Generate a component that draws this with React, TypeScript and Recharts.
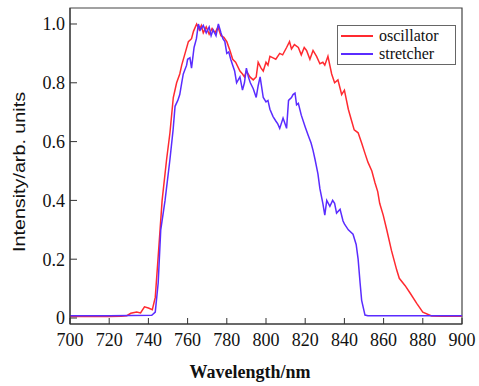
import React from "react";
import {
  Label,
  Legend,
  Line,
  LineChart,
  ReferenceArea,
  XAxis,
  YAxis
} from "recharts";

// oscillator spectrum
const oscWl = [
  700, 710, 720, 726, 729, 731, 734, 736, 738, 740, 742, 743.5, 745, 747, 749.3, 751, 752.7, 754.4, 756, 757,
  758.7, 760.4, 762, 763, 764.6, 766, 767, 768, 769.5, 771, 772.5, 774, 775.5, 777, 778.5, 780, 781.6, 783,
  784.5, 786.7, 788, 789, 790, 791.8, 793.5, 795, 796, 797.5, 798.6, 800, 801, 802, 803.6, 805, 807, 808.5,
  810.5, 812, 813, 814.5, 816.5, 818, 819.5, 820.7, 822.4, 824, 825.8, 827.5, 829, 830, 831.6, 833.5, 835,
  836.7, 838.6, 840, 842, 843.7, 845, 847, 848.8, 850.5, 852, 854, 855.6, 857, 858, 859.8, 861.6, 864, 866.7,
  868, 871, 873.5, 876.9, 880, 884.5, 890, 900
];
const oscVal = [
  0.005, 0.005, 0.005, 0.006, 0.008, 0.016, 0.02, 0.017, 0.038, 0.034, 0.028, 0.07, 0.21, 0.4, 0.54, 0.63, 0.75,
  0.8, 0.83, 0.86, 0.9, 0.94, 0.95, 0.975, 1.0, 0.98, 0.995, 0.97, 0.99, 0.965, 0.985, 0.97, 0.99, 0.96, 0.955,
  0.94, 0.91, 0.88, 0.87, 0.84, 0.83, 0.82, 0.84, 0.82, 0.81, 0.82, 0.87, 0.85, 0.84, 0.87, 0.86, 0.89, 0.885,
  0.88, 0.9, 0.895, 0.92, 0.94, 0.915, 0.93, 0.92, 0.895, 0.92, 0.91, 0.88, 0.91, 0.89, 0.865, 0.87, 0.86, 0.89,
  0.83, 0.8, 0.81, 0.76, 0.775, 0.71, 0.67, 0.64, 0.63, 0.595, 0.56, 0.53, 0.5, 0.46, 0.43, 0.39, 0.35, 0.3,
  0.23, 0.163, 0.135, 0.11, 0.085, 0.05, 0.02, 0.007, 0.006, 0.006
];

// stretcher spectrum
const strWl = [
  700, 720, 741.7, 743.5, 745, 746.3, 748.5, 751, 752.6, 753.6, 755, 756, 757, 757.8, 759.5, 760, 761.2, 762,
  763.3, 764.5, 765.5, 766.5, 768, 769.5, 771, 772, 773, 774.5, 775.7, 777, 778, 779, 780, 781, 782, 783, 784,
  785, 786.7, 788, 789, 790, 791, 792, 793.5, 795, 796, 797, 798.6, 800, 801, 802, 803.6, 805, 806, 807, 808.7,
  810.5, 811.5, 813, 813.8, 814.8, 815.6, 816.5, 818, 820, 821.6, 823, 824, 825, 826.5, 827.5, 829, 830, 831,
  832.6, 834, 835, 836, 837.8, 839.3, 840, 842, 844.4, 846, 847, 848, 848.8, 850.5, 852, 900
];
const strVal = [
  0.008, 0.008, 0.009, 0.02, 0.12, 0.3, 0.4, 0.54, 0.64, 0.72, 0.74, 0.76, 0.8, 0.83, 0.86, 0.88, 0.885, 0.85,
  0.92, 0.95, 1.0, 0.98, 0.995, 0.97, 0.99, 0.96, 0.98, 0.96, 1.0, 0.97, 0.95, 0.94, 0.9, 0.905, 0.88, 0.86, 0.84,
  0.8, 0.82, 0.775, 0.8, 0.85, 0.82, 0.8, 0.78, 0.75, 0.79, 0.82, 0.75, 0.735, 0.74, 0.71, 0.685, 0.67, 0.66,
  0.645, 0.68, 0.645, 0.74, 0.75, 0.76, 0.765, 0.725, 0.73, 0.69, 0.65, 0.62, 0.595, 0.57, 0.54, 0.49, 0.44,
  0.39, 0.35, 0.4, 0.38, 0.4, 0.39, 0.357, 0.37, 0.33, 0.32, 0.3, 0.285, 0.25, 0.2, 0.12, 0.06, 0.01, 0.008, 0.008
];

const xTicks = [700, 720, 740, 760, 780, 800, 820, 840, 860, 880, 900];
const yTicks = [0, 0.2, 0.4, 0.6, 0.8, 1.0];

const oscData = oscWl.map((wl, i) => ({ wl, v: oscVal[i] }));
const strData = strWl.map((wl, i) => ({ wl, v: strVal[i] }));

const series = [
  { key: "osc", label: "oscillator", color: "#ff2a30", data: oscData },
  { key: "str", label: "stretcher", color: "#5a2cff", data: strData }
];

const font = "'Liberation Serif', 'Times New Roman', serif";
const yMin = -0.0204;
const yMax = 1.0544;
const tickStyle = { fill: "#111", fontSize: 18, fontFamily: font, style: { fontFamily: font } };

function LegendBox() {
  return (
    <div
      style={{
        width: 119,
        height: 40,
        border: "1px solid #666",
        background: "#fff",
        fontFamily: font,
        fontSize: 16,
        lineHeight: "18px",
        color: "#111",
        paddingTop: 1,
        boxSizing: "border-box"
      }}
    >
      {series.map((s) => (
        <div key={s.key} style={{ display: "flex", alignItems: "center", height: 18 }}>
          <span style={{ display: "inline-block", width: 32, height: 1.5, background: s.color, marginLeft: 3, marginRight: 6 }} />
          <span>{s.label}</span>
        </div>
      ))}
    </div>
  );
}

export default function App() {
  return (
    <div style={{ position: "absolute", left: 0, top: 0, background: "#fff", fontFamily: font }}>
      <LineChart width={479} height={386} margin={{ top: 8, right: 17, left: 0, bottom: 0 }} style={{ fontFamily: font }}>
        <XAxis
          dataKey="wl"
          type="number"
          domain={[700, 900]}
          ticks={xTicks}
          interval={0}
          allowDuplicatedCategory={false}
          height={62}
          tickSize={-6}
          tickMargin={15}
          stroke="#333"
          tick={tickStyle}
        >
          <Label
            content={() => (
              <text x={250} y={378} textAnchor="middle" style={{ fontFamily: font }} fontSize={18} fontWeight="bold" fill="#111">
                Wavelength/nm
              </text>
            )}
          />
        </XAxis>
        <YAxis
          type="number"
          domain={[yMin, yMax]}
          ticks={yTicks}
          interval={0}
          allowDataOverflow
          width={70}
          tickSize={-7}
          tickMargin={12}
          stroke="#333"
          tickFormatter={(v: number) => (v === 0 ? "0" : v.toFixed(1))}
          tick={tickStyle}
        >
          <Label
            content={() => (
              <text
                x={25}
                y={172}
                transform="rotate(-90 25 172)"
                textAnchor="middle"
                style={{ fontFamily: "'Liberation Sans Narrow', 'Liberation Sans', sans-serif" }}
                fontSize={16}
                textLength={160}
                lengthAdjust="spacingAndGlyphs"
                fill="#111"
              >
                Intensity/arb. units
              </text>
            )}
          />
        </YAxis>
        <ReferenceArea x1={700} x2={900} y1={yMin} y2={yMax} fill="none" stroke="#444" strokeWidth={1.2} ifOverflow="visible" />
        <Legend
          layout="horizontal"
          verticalAlign="middle"
          align="center"
          content={() => <LegendBox />}
          wrapperStyle={{ position: "absolute", left: 337, top: 25, width: 119 }}
        />
        {series.map((s) => (
          <Line
            key={s.key}
            data={s.data}
            dataKey="v"
            name={s.label}
            type="linear"
            stroke={s.color}
            strokeWidth={1.5}
            dot={false}
            isAnimationActive={false}
          />
        ))}
      </LineChart>
    </div>
  );
}
